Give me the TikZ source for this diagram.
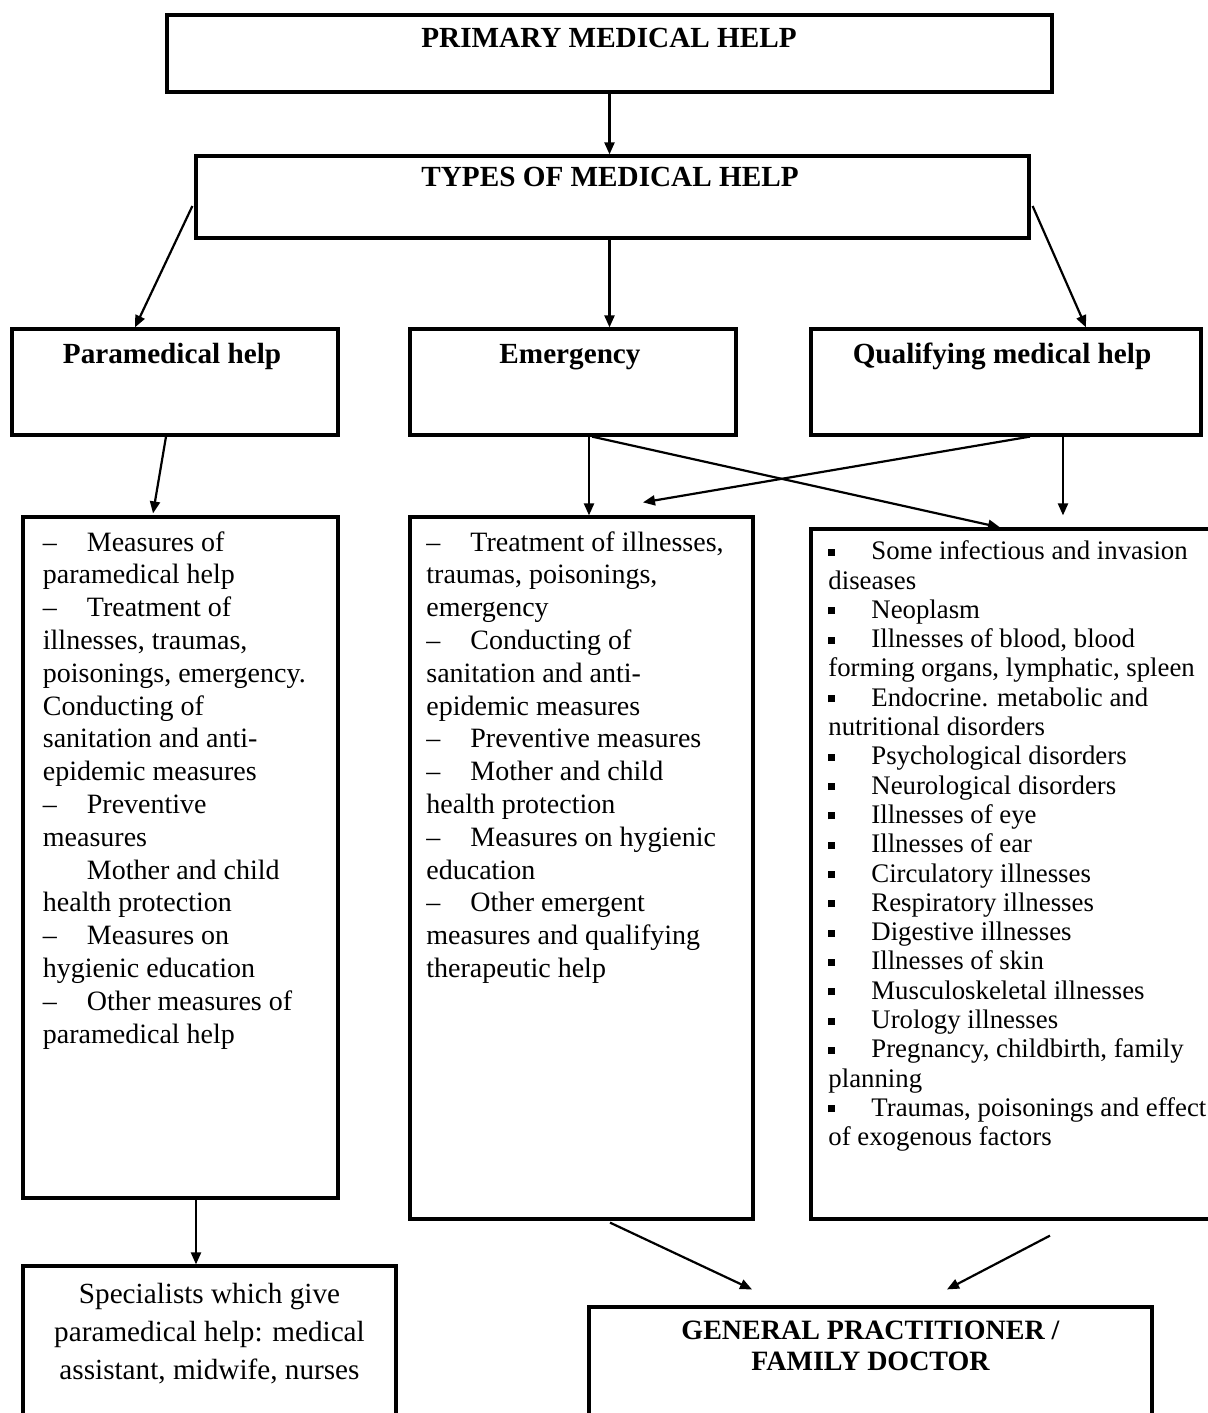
\documentclass[tikz,border=0pt]{standalone}
\usepackage{fontspec}
\setmainfont{Liberation Serif}
\usepackage{tikz}
\usetikzlibrary{arrows.meta,calc}
\definecolor{chartline}{HTML}{000000}
\tikzstyle{box} = [draw=chartline, line width=1.6pt, rectangle, inner sep=0pt]
\tikzstyle{head} = [font=\fontsize{14.6}{16}\selectfont\bfseries, inner sep=0pt, anchor=base]
\tikzstyle{listtext} = [font=\fontsize{14}{16.4}\selectfont, align=left, inner sep=0pt, anchor=north west]
\tikzstyle{arrow} = [-{Triangle[length=6pt, width=5pt]}, line width=1.1pt, chartline]
\newcommand{\dashtab}{\makebox[22pt][l]{--}}
\newcommand{\sqtab}{\makebox[21.5pt][l]{\rule[2pt]{3.5pt}{3.5pt}}}

\begin{document}
\begin{tikzpicture}[x=0.5pt, y=-0.5pt]
\clip (0,0) rectangle (1208,1413);
\fill[white] (0,0) rectangle (1208,1413);

% boxes
\node[box, minimum width=442.5pt, minimum height=38.5pt] (prim) at (609.5,53.5) {};
\node[box, minimum width=416.5pt, minimum height=41pt] (types) at (612.5,197) {};
\node[box, minimum width=163pt, minimum height=53pt] (para) at (175,382) {};
\node[box, minimum width=163pt, minimum height=53pt] (emerg) at (573,382) {};
\node[box, minimum width=195pt, minimum height=53pt] (qual) at (1006,382) {};
\node[box, minimum width=157.5pt, minimum height=340.5pt] (paralist) at (180.5,857.5) {};
\node[box, minimum width=171.5pt, minimum height=351pt] (emerglist) at (581.5,868) {};
\node[box, minimum width=201.5pt, minimum height=345pt] (quallist) at (1012.5,874) {};
\node[box, minimum width=186.5pt, minimum height=79.5pt] (spec) at (209.5,1345.5) {};
\node[box, minimum width=281.5pt, minimum height=59pt] (gp) at (870.5,1366) {};

% headings
\node[head] (primtext) at (609,48) {PRIMARY MEDICAL HELP};
\node[head] (typestext) at (610,186) {TYPES OF MEDICAL HELP};
\node[head] (paratext) at (172,363) {Paramedical help};
\node[head] (emergtext) at (570,363) {Emergency};
\node[head] (qualtext) at (1002,363) {Qualifying medical help};

% lists
\node[listtext] (paralisttext) at (42.5,531) {%
\dashtab Measures of\\
paramedical help\\
\dashtab Treatment of\\
illnesses, traumas,\\
poisonings, emergency.\\
Conducting of\\
sanitation and anti-\\
epidemic measures\\
\dashtab Preventive\\
measures\\
\hspace*{22pt}Mother and child\\
health protection\\
\dashtab Measures on\\
hygienic education\\
\dashtab Other measures of\\
paramedical help};

\node[listtext] (emerglisttext) at (426,531) {%
\dashtab Treatment of illnesses,\\
traumas, poisonings,\\
emergency\\
\dashtab Conducting of\\
sanitation and anti-\\
epidemic measures\\
\dashtab Preventive measures\\
\dashtab Mother and child\\
health protection\\
\dashtab Measures on hygienic\\
education\\
\dashtab Other emergent\\
measures and qualifying\\
therapeutic help};

\node[listtext, font=\fontsize{13.4}{14.65}\selectfont] (quallisttext) at (828,540.5) {%
\sqtab Some infectious and invasion\\
diseases\\
\sqtab Neoplasm\\
\sqtab Illnesses of blood, blood\\
forming organs, lymphatic, spleen\\
\sqtab Endocrine. metabolic and\\
nutritional disorders\\
\sqtab Psychological disorders\\
\sqtab Neurological disorders\\
\sqtab Illnesses of eye\\
\sqtab Illnesses of ear\\
\sqtab Circulatory illnesses\\
\sqtab Respiratory illnesses\\
\sqtab Digestive illnesses\\
\sqtab Illnesses of skin\\
\sqtab Musculoskeletal illnesses\\
\sqtab Urology illnesses\\
\sqtab Pregnancy, childbirth, family\\
planning\\
\sqtab Traumas, poisonings and effect\\
of exogenous factors};

\node[font=\fontsize{14.6}{19}\selectfont, align=center, inner sep=0pt, anchor=north] (spectext) at (209.5,1282.5) {Specialists which give\\paramedical help: medical\\assistant, midwife, nurses};
\node[font=\fontsize{14}{15.75}\selectfont\bfseries, align=center, inner sep=0pt, anchor=north] (gptext) at (870.5,1320.5) {GENERAL PRACTITIONER /\\FAMILY DOCTOR};

% arrows
\draw[arrow] (prim.south) -- (prim.south |- types.north);
\draw[arrow] ($(types.west)+(-2,9)$) -- ($(para.north)+(-40,0)$);
\draw[arrow] ($(types.south)+(-3,0)$) -- ($(types.south |- emerg.north)+(-3,0)$);
\draw[arrow] ($(types.east)+(2,9)$) -- ($(qual.north)+(80,0)$);
\draw[arrow] ($(para.south)+(-9,0)$) -- ($(paralist.north)+(-27.5,-2)$);
\draw[arrow] ($(emerg.south)+(16,0)$) -- ($(emerglist.north)+(7.5,0)$);
\draw[arrow] ($(emerg.south)+(19,0)$) -- ($(quallist.north)+(-12.5,0)$);
\draw[arrow] ($(qual.south)+(24,0)$) -- ($(emerglist.north)+(61.5,-13)$);
\draw[arrow] ($(qual.south)+(57,0)$) -- ($(qual.south |- quallist.north)+(57,-12)$);
\draw[arrow] ($(paralist.south)+(15.5,0)$) -- ($(spec.north)+(-13.5,0)$);
\draw[arrow] ($(emerglist.south)+(28.5,2)$) -- ($(gp.north)+(-118.5,-16)$);
\draw[arrow] ($(quallist.south)+(37.5,15)$) -- ($(gp.north)+(76.5,-16)$);
\end{tikzpicture}
\end{document}
